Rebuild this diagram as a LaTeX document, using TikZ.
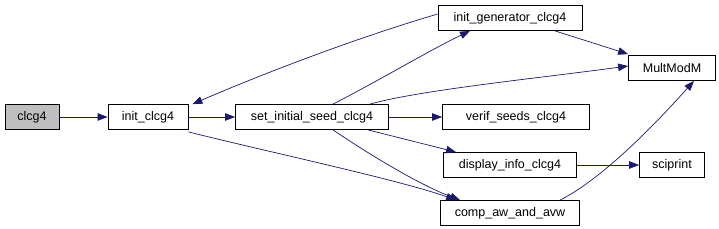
\documentclass[tikz,border=0pt]{standalone}
\usepackage{fontspec}
\setmainfont{Liberation Sans}
\usetikzlibrary{arrows.meta}
\definecolor{edgec}{HTML}{191970}
\begin{document}
\begin{tikzpicture}[x=1pt,y=-1pt,
  box/.style={draw=black,fill=white,line width=0.8pt,inner sep=0pt,minimum height=25pt,font=\fontsize{12.5}{14}\selectfont},
  edge/.style={draw=edgec,line width=0.7pt,-{Triangle[length=10pt,width=7.5pt]}}]
\useasboundingbox (0,0) rectangle (719,229);
\node[box,fill={rgb,255:red,191;green,191;blue,191},minimum width=54pt] (clcg4) at (32,117) {clcg4};
\node[box,minimum width=80pt] (init) at (148,117) {init\_clcg4};
\node[box,minimum width=153pt] (set) at (312,117) {set\_initial\_seed\_clcg4};
\node[box,minimum width=144pt] (igen) at (510,18) {init\_generator\_clcg4};
\node[box,minimum width=87pt] (mult) at (672,68) {MultModM};
\node[box,minimum width=147pt] (verif) at (516,117) {verif\_seeds\_clcg4};
\node[box,minimum width=133pt] (disp) at (510,165) {display\_info\_clcg4};
\node[box,minimum width=65pt] (sci) at (672,165) {sciprint};
\node[box,minimum width=139pt] (comp) at (510,213) {comp\_aw\_and\_avw};

\draw[edge] (clcg4) -- (init);
\draw[edge] (init) -- (set);
\draw[edge] ([yshift=4pt]igen.west) .. controls (350,40) and (260,75) .. ([xshift=4pt]init.north east);
\draw[edge] ([xshift=21pt]set.north) .. controls (380,80) and (430,50) .. ([xshift=-40pt]igen.south);
\draw[edge] ([xshift=58pt]set.north) .. controls (420,90) and (540,78) .. ([yshift=2pt]mult.west);
\draw[edge] ([xshift=45pt]igen.south) -- ([yshift=1pt]mult.north west);
\draw[edge] (set) -- (verif);
\draw[edge] ([xshift=56pt]set.south) -- ([xshift=13pt]disp.north west);
\draw[edge] ([xshift=21pt]set.south) .. controls (370,155) and (420,185) .. ([xshift=20pt]comp.north west);
\draw[edge] ([yshift=-2pt]init.south east) .. controls (260,150) and (400,180) .. ([xshift=16pt]comp.north west);
\draw[edge] ([xshift=50pt]comp.north) .. controls (600,180) and (650,130) .. ([xshift=22pt]mult.south);
\draw[edge] (disp) -- (sci);
\end{tikzpicture}
\end{document}
